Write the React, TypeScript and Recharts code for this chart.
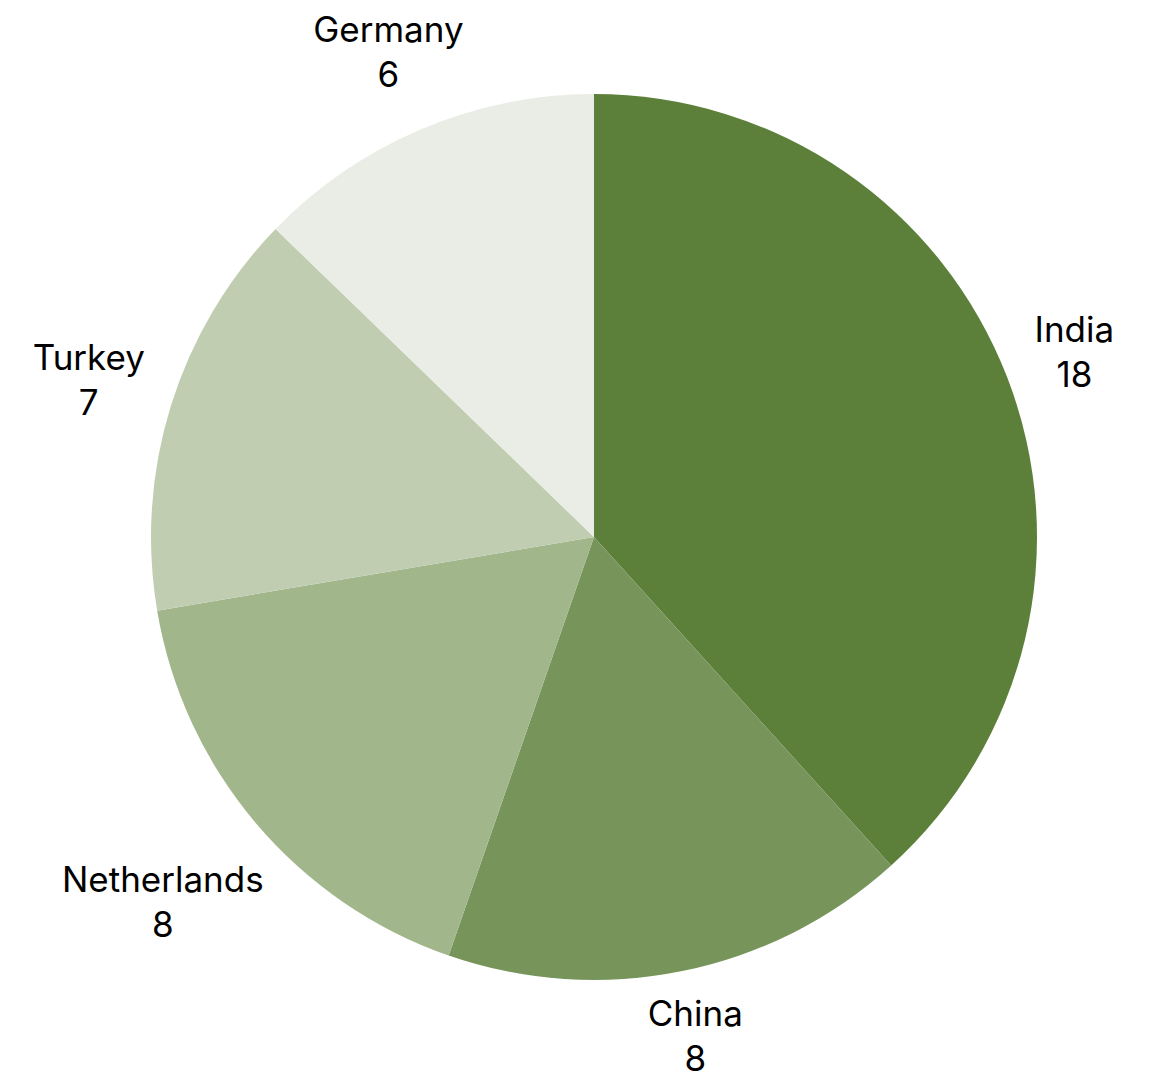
import React from "react";
import { PieChart, Pie, Cell } from "recharts";

const countries = ["India", "China", "Netherlands", "Turkey", "Germany"];
const counts = [18, 8, 8, 7, 6];
const colors = ["#5c8039", "#77955a", "#a2b68c", "#c0cdb0", "#eaede5"];

const data = countries.map((name, i) => ({ name, value: counts[i] }));

const FONT_SIZE = 35;
const FONT_FAMILY = "Inter, 'Noto Sans', sans-serif";
const LINE_GAP = 45;
const CAP = 25;
const RADIAN = Math.PI / 180;

let ctx: CanvasRenderingContext2D | null = null;
function textWidth(s: string): number {
  try {
    if (!ctx) {
      const c = document.createElement("canvas");
      ctx = c.getContext("2d");
    }
    if (ctx) {
      ctx.font = `${FONT_SIZE}px ${FONT_FAMILY}`;
      return ctx.measureText(s).width;
    }
  } catch (e) {}
  return s.length * FONT_SIZE * 0.55;
}

const renderLabel = (props: any) => {
  const { cx, cy, midAngle, outerRadius, name, value } = props;
  const cos = Math.cos(-midAngle * RADIAN);
  const sin = Math.sin(-midAngle * RADIAN);
  const w = Math.max(textWidth(String(name)), textWidth(String(value)));
  const blockH = CAP + LINE_GAP;
  const d = outerRadius + 22 + (w / 2) * Math.abs(cos) + (blockH / 2) * Math.abs(sin);
  const x = cx + d * cos;
  const y = cy + d * sin;
  const base1 = y - blockH / 2 + CAP;
  const style = { fontFamily: FONT_FAMILY, fontSize: FONT_SIZE };
  return (
    <g>
      <text x={x} y={base1} textAnchor="middle" fill="#000" style={style}>
        {name}
      </text>
      <text x={x} y={base1 + LINE_GAP} textAnchor="middle" fill="#000" style={style}>
        {value}
      </text>
    </g>
  );
};

export default function App() {
  return (
    <div style={{ position: "absolute", left: 0, top: 0, width: 1155, height: 1080, background: "#fff" }}>
      <PieChart width={1155} height={1080} margin={{ top: 0, right: 0, bottom: 0, left: 0 }}>
        <Pie
          data={data}
          dataKey="value"
          nameKey="name"
          cx={594}
          cy={537}
          outerRadius={443}
          startAngle={90}
          endAngle={-270}
          stroke="none"
          label={renderLabel}
          labelLine={false}
          isAnimationActive={false}
        >
          {data.map((d, i) => (
            <Cell key={d.name} fill={colors[i]} />
          ))}
        </Pie>
      </PieChart>
    </div>
  );
}
